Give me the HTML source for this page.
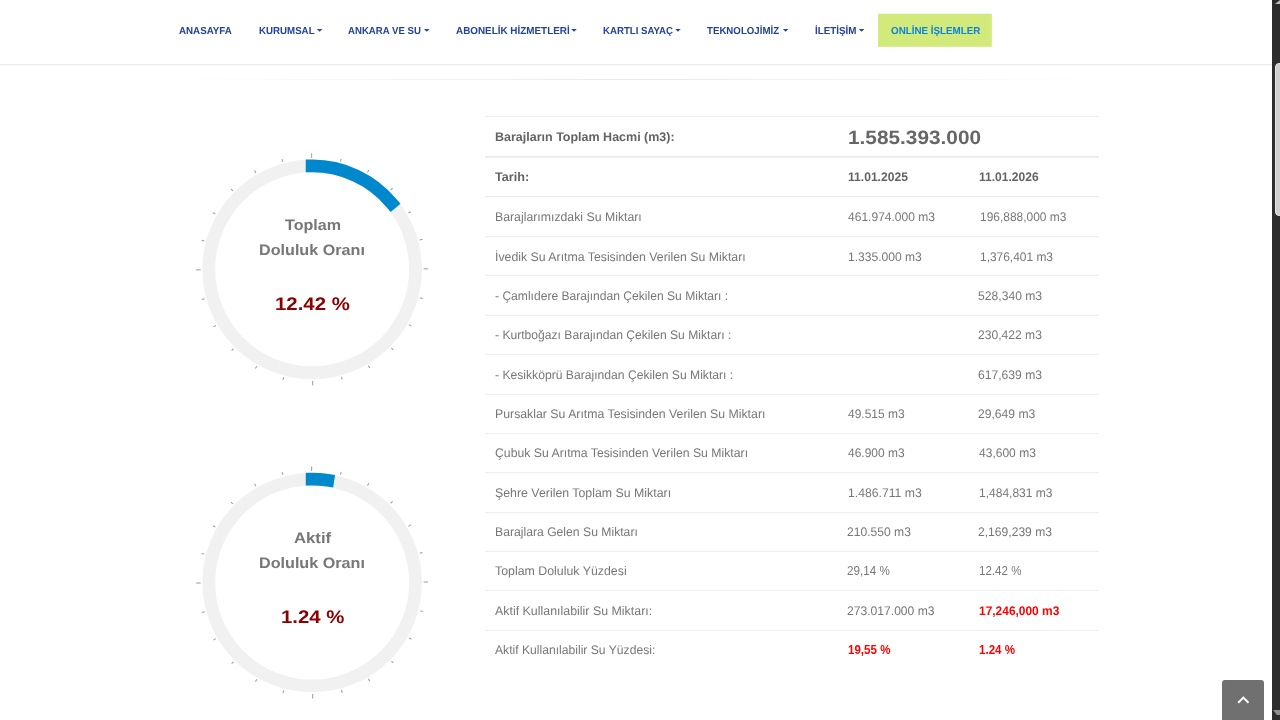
<!DOCTYPE html>
<html lang="tr"><head><meta charset="utf-8"><title>ASKİ - Baraj Doluluk Oranları</title>
<style>
*{box-sizing:border-box;margin:0;padding:0}
html,body{width:1280px;height:720px;overflow:hidden;background:#fff}
body{position:relative;font-family:"Liberation Sans",sans-serif;color:#777;font-size:12px}
.abs{position:absolute}
.t{position:absolute;white-space:nowrap;transform-origin:0 0;line-height:1.2}
#gl{position:absolute;left:0;top:0;width:1272px;height:720px;will-change:transform}
b.t{font-weight:bold}
#nav{position:absolute;left:0;top:0;width:1272px;height:64px;background:#fff}
#navline{position:absolute;left:0;top:64px;width:1272px;height:1px;background:#e8e8e8;box-shadow:0 1px 1px rgba(0,0,0,.025)}
#hr{position:absolute;left:170px;top:79px;width:932px;height:1px;background:linear-gradient(to right,rgba(0,0,0,0),rgba(0,0,0,.085),rgba(0,0,0,0))}
#sb{position:absolute;left:1272px;top:0;width:8px;height:720px;background:#2c2c2c;overflow:hidden}
#sbt{position:absolute;left:3px;top:63px;width:9px;height:153px;background:#cfcfcf;border-radius:4px;border:1px solid #e4e4e4}
#top{position:absolute;left:1222px;top:680px;width:42px;height:44px;background:#707070;border-radius:3px 3px 0 0}
.ln{position:absolute;left:485px;width:614px;height:1px;background:#eceef0}
</style></head><body>
<div id="nav"></div><div id="navline"></div><div id="hr"></div>
<svg class="abs" style="left:0;top:0" width="1272" height="720" viewBox="0 0 1272 720">
<rect x="878" y="13.7" width="113.8" height="33.1" fill="#d2e97b"/>
<circle cx="312.15" cy="269.35" r="103.4" fill="none" stroke="#f1f1f1" stroke-width="12.8"/>
<path d="M312.15 165.95 A103.4 103.4 0 0 1 391.47 203.02" fill="none" stroke="#0088cc" stroke-width="12.8" stroke-linecap="square"/>
<g fill="#9a9a9a" transform="translate(312.15 269.35)">
<rect x="-116.0" y="0" width="4.5" height="1" transform="rotate(-90)"/>
<rect x="-114.3" y="0" width="2.8" height="1" transform="rotate(-75)"/>
<rect x="-114.3" y="0" width="2.8" height="1" transform="rotate(-60)"/>
<rect x="-114.3" y="0" width="2.8" height="1" transform="rotate(-45)"/>
<rect x="-114.3" y="0" width="2.8" height="1" transform="rotate(-30)"/>
<rect x="-114.3" y="0" width="2.8" height="1" transform="rotate(-15)"/>
<rect x="-116.0" y="0" width="4.5" height="1" transform="rotate(0)"/>
<rect x="-114.3" y="0" width="2.8" height="1" transform="rotate(15)"/>
<rect x="-114.3" y="0" width="2.8" height="1" transform="rotate(30)"/>
<rect x="-114.3" y="0" width="2.8" height="1" transform="rotate(45)"/>
<rect x="-114.3" y="0" width="2.8" height="1" transform="rotate(60)"/>
<rect x="-114.3" y="0" width="2.8" height="1" transform="rotate(75)"/>
<rect x="-116.0" y="0" width="4.5" height="1" transform="rotate(90)"/>
<rect x="-114.3" y="0" width="2.8" height="1" transform="rotate(105)"/>
<rect x="-114.3" y="0" width="2.8" height="1" transform="rotate(120)"/>
<rect x="-114.3" y="0" width="2.8" height="1" transform="rotate(135)"/>
<rect x="-114.3" y="0" width="2.8" height="1" transform="rotate(150)"/>
<rect x="-114.3" y="0" width="2.8" height="1" transform="rotate(165)"/>
<rect x="-116.0" y="0" width="4.5" height="1" transform="rotate(180)"/>
<rect x="-114.3" y="0" width="2.8" height="1" transform="rotate(195)"/>
<rect x="-114.3" y="0" width="2.8" height="1" transform="rotate(210)"/>
<rect x="-114.3" y="0" width="2.8" height="1" transform="rotate(225)"/>
<rect x="-114.3" y="0" width="2.8" height="1" transform="rotate(240)"/>
<rect x="-114.3" y="0" width="2.8" height="1" transform="rotate(255)"/>
</g>
<circle cx="312.15" cy="582.5" r="103.4" fill="none" stroke="#f1f1f1" stroke-width="12.8"/>
<path d="M312.15 479.10 A103.4 103.4 0 0 1 327.79 480.29" fill="none" stroke="#0088cc" stroke-width="12.8" stroke-linecap="square"/>
<g fill="#9a9a9a" transform="translate(312.15 582.5)">
<rect x="-116.0" y="0" width="4.5" height="1" transform="rotate(-90)"/>
<rect x="-114.3" y="0" width="2.8" height="1" transform="rotate(-75)"/>
<rect x="-114.3" y="0" width="2.8" height="1" transform="rotate(-60)"/>
<rect x="-114.3" y="0" width="2.8" height="1" transform="rotate(-45)"/>
<rect x="-114.3" y="0" width="2.8" height="1" transform="rotate(-30)"/>
<rect x="-114.3" y="0" width="2.8" height="1" transform="rotate(-15)"/>
<rect x="-116.0" y="0" width="4.5" height="1" transform="rotate(0)"/>
<rect x="-114.3" y="0" width="2.8" height="1" transform="rotate(15)"/>
<rect x="-114.3" y="0" width="2.8" height="1" transform="rotate(30)"/>
<rect x="-114.3" y="0" width="2.8" height="1" transform="rotate(45)"/>
<rect x="-114.3" y="0" width="2.8" height="1" transform="rotate(60)"/>
<rect x="-114.3" y="0" width="2.8" height="1" transform="rotate(75)"/>
<rect x="-116.0" y="0" width="4.5" height="1" transform="rotate(90)"/>
<rect x="-114.3" y="0" width="2.8" height="1" transform="rotate(105)"/>
<rect x="-114.3" y="0" width="2.8" height="1" transform="rotate(120)"/>
<rect x="-114.3" y="0" width="2.8" height="1" transform="rotate(135)"/>
<rect x="-114.3" y="0" width="2.8" height="1" transform="rotate(150)"/>
<rect x="-114.3" y="0" width="2.8" height="1" transform="rotate(165)"/>
<rect x="-116.0" y="0" width="4.5" height="1" transform="rotate(180)"/>
<rect x="-114.3" y="0" width="2.8" height="1" transform="rotate(195)"/>
<rect x="-114.3" y="0" width="2.8" height="1" transform="rotate(210)"/>
<rect x="-114.3" y="0" width="2.8" height="1" transform="rotate(225)"/>
<rect x="-114.3" y="0" width="2.8" height="1" transform="rotate(240)"/>
<rect x="-114.3" y="0" width="2.8" height="1" transform="rotate(255)"/>
</g>
<path d="M316.90 28.9h5.5l-2.75 2.8zM424.00 28.9h5.5l-2.75 2.8zM571.30 28.9h5.5l-2.75 2.8zM675.20 28.9h5.5l-2.75 2.8zM782.90 28.9h5.5l-2.75 2.8zM858.80 28.9h5.5l-2.75 2.8z" fill="#2445a0"/>
</svg>
<div class="ln" style="top:116px;background:#f0f0f0"></div>
<div class="ln" style="top:156px;height:1px;background:#e8eaed"></div><div class="ln" style="top:157px;height:1px;background:#eff0f2"></div>
<div class="ln" style="top:196px;height:1px;background:#e8eaed"></div>
<div class="ln" style="top:236px"></div>
<div class="ln" style="top:275px"></div>
<div class="ln" style="top:315px"></div>
<div class="ln" style="top:354px"></div>
<div class="ln" style="top:394px"></div>
<div class="ln" style="top:433px"></div>
<div class="ln" style="top:472px"></div>
<div class="ln" style="top:512px"></div>
<div class="ln" style="top:551px"></div>
<div class="ln" style="top:590px"></div>
<div class="ln" style="top:630px"></div>
<div id="gl">
<b class="t" id="n1" style="left:178.54px;top:25.21px;font-size:10.1px;color:#23429b;transform:scaleX(0.9679) skewX(.03deg)">ANASAYFA</b>
<b class="t" id="n2" style="left:258.89px;top:25.21px;font-size:10.1px;color:#23429b;transform:scaleX(0.9619) skewX(.03deg)">KURUMSAL</b>
<b class="t" id="n3" style="left:348.22px;top:25.21px;font-size:10.1px;color:#23429b;transform:scaleX(0.9526) skewX(.03deg)">ANKARA VE SU</b>
<b class="t" id="n4" style="left:455.53px;top:25.21px;font-size:10.1px;color:#23429b;transform:scaleX(0.9793) skewX(.03deg)">ABONELİK HİZMETLERİ</b>
<b class="t" id="n5" style="left:603.48px;top:25.20px;font-size:10.1px;color:#23429b;transform:scaleX(0.9549) skewX(.03deg)">KARTLI SAYAÇ</b>
<b class="t" id="n6" style="left:707.49px;top:25.21px;font-size:10.1px;color:#23429b;transform:scaleX(0.9592) skewX(.03deg)">TEKNOLOJİMİZ</b>
<b class="t" id="n7" style="left:814.85px;top:25.20px;font-size:10.1px;color:#23429b;transform:scaleX(0.9739) skewX(.03deg)">İLETİŞİM</b>
<b class="t" id="n8" style="left:890.90px;top:25.20px;font-size:10.1px;color:#0b84d8;transform:scaleX(0.9721) skewX(.03deg)">ONLİNE İŞLEMLER</b>
<b class="t" id="g1a" style="left:284.61px;top:215.80px;font-size:15.1px;color:#777;transform:scaleX(1.0660) skewX(.03deg)">Toplam</b>
<b class="t" id="g1b" style="left:259.35px;top:241.41px;font-size:15.1px;color:#777;transform:scaleX(1.0699) skewX(.03deg)">Doluluk Oranı</b>
<b class="t" id="g1c" style="left:275.45px;top:293.61px;font-size:18.2px;color:#8b0000;transform:scaleX(1.1210) skewX(.03deg)">12.42 %</b>
<b class="t" id="g2a" style="left:293.82px;top:529.21px;font-size:15.1px;color:#777;transform:scaleX(1.1065) skewX(.03deg)">Aktif</b>
<b class="t" id="g2b" style="left:259.35px;top:554.41px;font-size:15.1px;color:#777;transform:scaleX(1.0699) skewX(.03deg)">Doluluk Oranı</b>
<b class="t" id="g2c" style="left:281.06px;top:606.61px;font-size:18.2px;color:#8b0000;transform:scaleX(1.1187) skewX(.03deg)">1.24 %</b>
</div>
<b class="t" id="h1" style="left:495.32px;top:129.61px;font-size:12.5px;color:#636363;transform:scaleX(0.9997) skewX(.03deg)">Barajların Toplam Hacmi (m3):</b>
<b class="t" id="h2" style="left:847.82px;top:125.91px;font-size:19.3px;color:#666;transform:scaleX(1.0792) skewX(.03deg)">1.585.393.000</b>
<b class="t" id="h3" style="left:495.13px;top:169.60px;font-size:12.5px;color:#636363;transform:scaleX(1.0110) skewX(.03deg)">Tarih:</b>
<b class="t" id="h4" style="left:847.93px;top:169.61px;font-size:12.5px;color:#636363;transform:scaleX(0.9679) skewX(.03deg)">11.01.2025</b>
<b class="t" id="h5" style="left:979.10px;top:169.60px;font-size:12.5px;color:#636363;transform:scaleX(0.9634) skewX(.03deg)">11.01.2026</b>
<span class="t" id="r0a" style="left:494.68px;top:210.00px;font-size:12.5px;color:#777;transform:scaleX(0.9828) skewX(.03deg)">Barajlarımızdaki Su Miktarı</span>
<span class="t" id="r0b" style="left:847.66px;top:210.00px;font-size:12.5px;color:#777;transform:scaleX(0.9631) skewX(.03deg)">461.974.000 m3</span>
<span class="t" id="r0c" style="left:979.89px;top:210.00px;font-size:12.5px;color:#777;transform:scaleX(0.9557) skewX(.03deg)">196,888,000 m3</span>
<span class="t" id="r1a" style="left:495.00px;top:250.00px;font-size:12.5px;color:#777;transform:scaleX(0.9839) skewX(.03deg)">İvedik Su Arıtma Tesisinden Verilen Su Miktarı</span>
<span class="t" id="r1b" style="left:847.63px;top:250.00px;font-size:12.5px;color:#777;transform:scaleX(0.9655) skewX(.03deg)">1.335.000 m3</span>
<span class="t" id="r1c" style="left:979.92px;top:250.00px;font-size:12.5px;color:#777;transform:scaleX(0.9548) skewX(.03deg)">1,376,401 m3</span>
<span class="t" id="r2a" style="left:495.20px;top:289.00px;font-size:12.5px;color:#777;transform:scaleX(0.9673) skewX(.03deg)">- Çamlıdere Barajından Çekilen Su Miktarı :</span>
<span class="t" id="r2c" style="left:978.26px;top:289.00px;font-size:12.5px;color:#777;transform:scaleX(0.9712) skewX(.03deg)">528,340 m3</span>
<span class="t" id="r3a" style="left:495.20px;top:328.00px;font-size:12.5px;color:#777;transform:scaleX(0.9688) skewX(.03deg)">- Kurtboğazı Barajından Çekilen Su Miktarı :</span>
<span class="t" id="r3c" style="left:978.38px;top:328.00px;font-size:12.5px;color:#777;transform:scaleX(0.9679) skewX(.03deg)">230,422 m3</span>
<span class="t" id="r4a" style="left:495.20px;top:368.00px;font-size:12.5px;color:#777;transform:scaleX(0.9712) skewX(.03deg)">- Kesikköprü Barajından Çekilen Su Miktarı :</span>
<span class="t" id="r4c" style="left:978.14px;top:368.00px;font-size:12.5px;color:#777;transform:scaleX(0.9694) skewX(.03deg)">617,639 m3</span>
<span class="t" id="r5a" style="left:494.68px;top:407.00px;font-size:12.5px;color:#777;transform:scaleX(0.9836) skewX(.03deg)">Pursaklar Su Arıtma Tesisinden Verilen Su Miktarı</span>
<span class="t" id="r5b" style="left:847.66px;top:407.00px;font-size:12.5px;color:#777;transform:scaleX(0.9579) skewX(.03deg)">49.515 m3</span>
<span class="t" id="r5c" style="left:978.37px;top:407.00px;font-size:12.5px;color:#777;transform:scaleX(0.9705) skewX(.03deg)">29,649 m3</span>
<span class="t" id="r6a" style="left:495.33px;top:446.00px;font-size:12.5px;color:#777;transform:scaleX(0.9799) skewX(.03deg)">Çubuk Su Arıtma Tesisinden Verilen Su Miktarı</span>
<span class="t" id="r6b" style="left:847.66px;top:446.00px;font-size:12.5px;color:#777;transform:scaleX(0.9573) skewX(.03deg)">46.900 m3</span>
<span class="t" id="r6c" style="left:978.66px;top:446.00px;font-size:12.5px;color:#777;transform:scaleX(0.9621) skewX(.03deg)">43,600 m3</span>
<span class="t" id="r7a" style="left:495.31px;top:486.00px;font-size:12.5px;color:#777;transform:scaleX(0.9875) skewX(.03deg)">Şehre Verilen Toplam Su Miktarı</span>
<span class="t" id="r7b" style="left:847.56px;top:486.00px;font-size:12.5px;color:#777;transform:scaleX(0.9755) skewX(.03deg)">1.486.711 m3</span>
<span class="t" id="r7c" style="left:979.37px;top:486.00px;font-size:12.5px;color:#777;transform:scaleX(0.9611) skewX(.03deg)">1,484,831 m3</span>
<span class="t" id="r8a" style="left:495.18px;top:525.00px;font-size:12.5px;color:#777;transform:scaleX(0.9743) skewX(.03deg)">Barajlara Gelen Su Miktarı</span>
<span class="t" id="r8b" style="left:847.38px;top:525.00px;font-size:12.5px;color:#777;transform:scaleX(0.9679) skewX(.03deg)">210.550 m3</span>
<span class="t" id="r8c" style="left:978.38px;top:525.00px;font-size:12.5px;color:#777;transform:scaleX(0.9682) skewX(.03deg)">2,169,239 m3</span>
<span class="t" id="r9a" style="left:494.89px;top:564.00px;font-size:12.5px;color:#777;transform:scaleX(0.9883) skewX(.03deg)">Toplam Doluluk Yüzdesi</span>
<span class="t" id="r9b" style="left:847.10px;top:564.00px;font-size:12.5px;color:#777;transform:scaleX(0.9322) skewX(.03deg)">29,14 %</span>
<span class="t" id="r9c" style="left:978.52px;top:564.00px;font-size:12.5px;color:#777;transform:scaleX(0.9255) skewX(.03deg)">12.42 %</span>
<span class="t" id="r10a" style="left:495.40px;top:604.00px;font-size:12.5px;color:#777;transform:scaleX(0.9922) skewX(.03deg)">Aktif Kullanılabilir Su Miktarı:</span>
<span class="t" id="r10b" style="left:847.21px;top:604.00px;font-size:12.5px;color:#777;transform:scaleX(0.9684) skewX(.03deg)">273.017.000 m3</span>
<b class="t" id="r10c" style="left:979.00px;top:604.00px;font-size:12.5px;color:#ff0000;transform:scaleX(0.9551) skewX(.03deg)">17,246,000 m3</b>
<span class="t" id="r11a" style="left:494.85px;top:643.00px;font-size:12.5px;color:#777;transform:scaleX(0.9708) skewX(.03deg)">Aktif Kullanılabilir Su Yüzdesi:</span>
<b class="t" id="r11b" style="left:848.18px;top:643.00px;font-size:12.5px;color:#ff0000;transform:scaleX(0.9244) skewX(.03deg)">19,55 %</b>
<b class="t" id="r11c" style="left:979.39px;top:643.00px;font-size:12.5px;color:#ff0000;transform:scaleX(0.9259) skewX(.03deg)">1.24 %</b>
<div id="top"><svg width="42" height="44" viewBox="0 0 42 44"><path d="M16.2 22.7 L21.35 17.6 L26.5 22.7" fill="none" stroke="#fff" stroke-width="2"/></svg></div>
<div id="sb"><div id="sbt"></div><svg class="abs" style="left:0;top:0" width="8" height="6"><path d="M3 4 L8 0 L8 4Z" fill="#bdbdbd"/></svg><svg class="abs" style="left:0;top:709px" width="8" height="10"><path d="M1 1 L8 1 L8 6 L5 6Z" fill="#8e8e8e"/></svg></div>
</body></html>
